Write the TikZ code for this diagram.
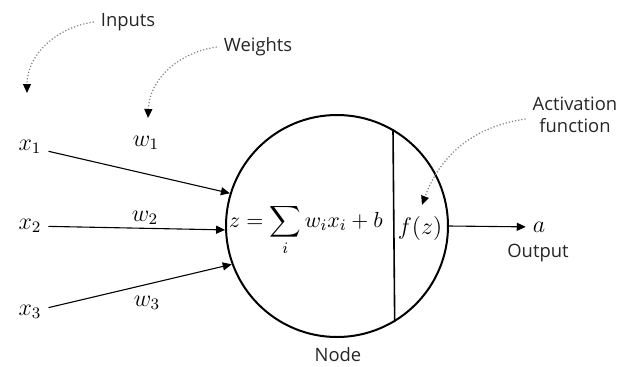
\documentclass[tikz,border=0pt]{standalone}
\usepackage{amsmath}
\usepackage{fontspec}
\setsansfont{Open Sans}
\usetikzlibrary{arrows.meta}

\begin{document}
\begin{tikzpicture}[x=0.5pt, y=-0.5pt, every node/.style={font=\fontsize{11}{13}\selectfont},
  lbl/.style={font=\sffamily\fontsize{9.2}{11}\selectfont, text=black!85, align=center},
  var/.style={font=\fontsize{12}{14}\selectfont},
  link/.style={line width=0.55pt, -{Triangle[length=4.5pt,width=4pt]}},
  note/.style={gray, densely dotted, line width=0.6pt, -{Triangle[length=4.5pt,width=4pt,black]}},
  neuron/.style={draw, circle, line width=1pt, minimum size=111pt, inner sep=0pt}]
\useasboundingbox (0,0) rectangle (617,366);
% neuron body
\node[neuron] (n) at (337,226) {};
\draw[line width=0.8pt] (n.60) -- (n.-59);
\node (sumf) at (306,230) {$\displaystyle z=\sum_i w_i x_i + b$};
\node[var] (fz) at (420,228) {$f(z)$};
% inputs and weights
\node[var] (x1) at (30,147) {$x_1$};
\node[var] (x2) at (30,226) {$x_2$};
\node[var] (x3) at (30,312) {$x_3$};
\node[var] (w1) at (146,143) {$w_1$};
\node[var] (w2) at (145,218) {$w_2$};
\node[var] (w3) at (147,303) {$w_3$};
\draw[link] (x1) -- (n.163);
\draw[link] (x2) -- (n.182);
\draw[link] (x3) -- (n.200);
% output
\node[var] (a) at (539,227) {$a$};
\draw[link] (n.east) -- (a);
\node[lbl] (outp) at (538,253) {Output};
\node[lbl] (nodelbl) at (338,355) {Node};
% notes
\node[lbl] (inputs) at (128,22) {Inputs};
\node[lbl] (weights) at (258,47) {Weights};
\node[lbl] (actf) at (575,115) {Activation\\function};
\coordinate (x1top) at (27,93);
\coordinate (w1top) at (148,118);
\coordinate (fztop) at (422,205);
\draw[note] (inputs.west) to[out=188,in=90] (x1top);
\draw[note] (weights.west) to[out=188,in=88] (w1top);
\draw[note] ([yshift=-2pt]actf.west) to[out=188,in=70] (fztop);
\end{tikzpicture}
\end{document}
